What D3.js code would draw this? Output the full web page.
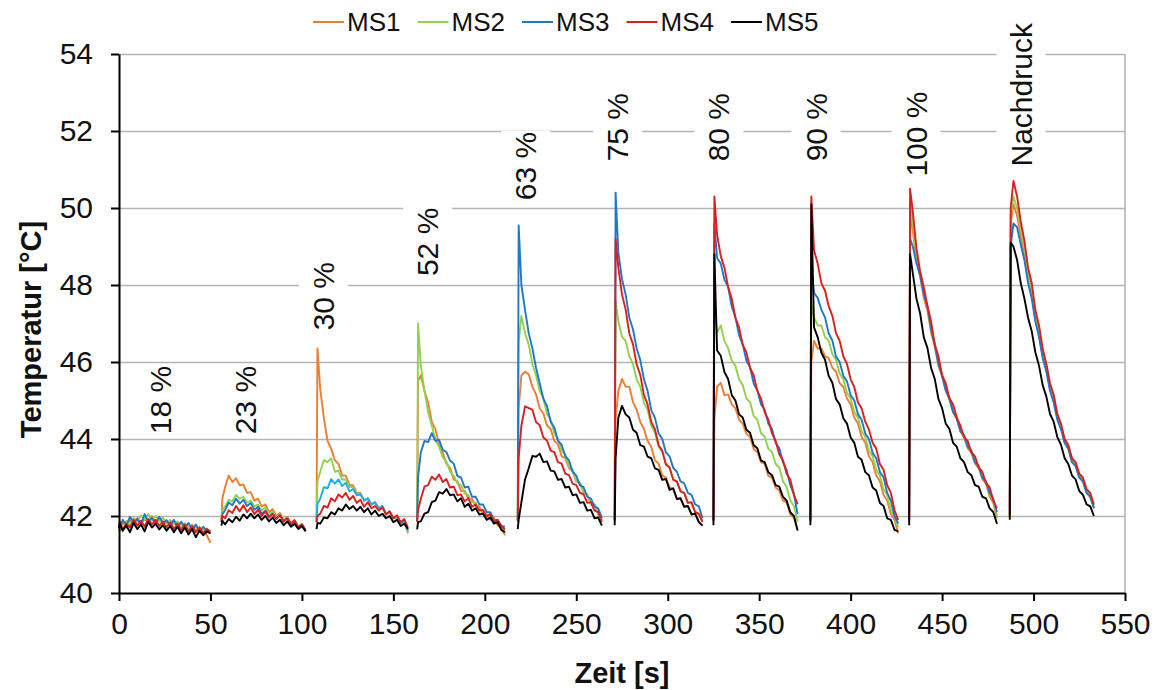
<!DOCTYPE html>
<html><head><meta charset="utf-8">
<script src="https://cdn.jsdelivr.net/npm/d3@7"></script>
<style>
html,body{margin:0;padding:0;background:#fff;}
svg{display:block;font-family:"Liberation Sans",Arial,sans-serif;}
</style></head>
<body><svg id="c" width="1156" height="690"></svg>
<script>
// ---- data ----
const seriesNames = ["MS1","MS2","MS3","MS4","MS5"];
const xTicks = [0,50,100,150,200,250,300,350,400,450,500,550];
const yTicks = [40,42,44,46,48,50,52,54];
// start time of each measurement segment; samples: start, start+0.5, then every 2 s
const segStart = [0,56,108,163,218,271,325,378,432,487];
const labelTexts = ["18 %","23 %","30 %","52 %","63 %","75 %","80 %","90 %","100 %","Nachdruck"];
const labelTime  = [22.4,69,111.6,168.6,222.2,272.5,327.8,380.9,435.6,493];
const labelTemp  = [45.01,45.01,47.71,49.12,51.09,52.1,52.1,52.1,51.92,52.94];

const ms1 = [
[41.75,41.62,41.85,41.7,41.9,41.78,41.95,41.8,41.92,41.86,42.0,41.82,41.95,41.8,41.9,41.76,41.88,41.7,41.84,41.68,41.8,41.62,41.75,41.6,41.7,41.5,41.3],
[41.85,42.45,42.75,43.05,42.88,42.98,42.8,42.82,42.6,42.62,42.4,42.45,42.25,42.3,42.1,42.18,42.0,42.08,41.9,41.98,41.82,41.9,41.72,41.78,41.62],
[41.85,46.35,45.3,44.55,43.95,43.75,43.45,43.35,43.05,43.05,42.8,42.8,42.6,42.6,42.4,42.45,42.3,42.35,42.2,42.25,42.05,42.1,41.95,41.95,41.8,41.85,41.55],
[41.85,45.5,45.65,45.25,44.95,44.45,44.25,43.85,43.65,43.35,43.25,42.95,42.9,42.65,42.65,42.45,42.45,42.25,42.25,42.05,42.05,41.9,41.95,41.75,41.72,41.5],
[41.88,44.8,45.65,45.75,45.68,45.36,45.16,44.8,44.66,44.35,44.26,43.95,43.86,43.55,43.5,43.25,43.16,42.9,42.86,42.6,42.56,42.3,42.3,42.05,41.9],
[41.86,44.5,45.25,45.56,45.36,45.36,44.96,44.76,44.44,44.26,43.95,43.8,43.45,43.36,43.05,43.0,42.75,42.7,42.45,42.46,42.25,42.26,42.05,42.06,41.85,41.75],
[41.86,44.5,45.36,45.46,45.14,45.16,44.9,44.8,44.5,44.4,44.14,44.06,43.74,43.66,43.4,43.36,43.04,43.0,42.74,42.66,42.4,42.36,42.04,41.96,41.65],
[41.86,46.0,46.55,46.35,46.35,46.15,46.1,45.85,45.75,45.45,45.35,45.05,44.9,44.55,44.4,44.05,43.9,43.55,43.4,43.05,42.9,42.55,42.4,42.05,41.9,41.55],
[41.86,49.8,49.4,48.66,48.24,47.66,47.34,46.76,46.4,45.9,45.64,45.26,45.04,44.7,44.54,44.2,44.04,43.76,43.64,43.36,43.24,42.96,42.84,42.5,42.34,41.95],
[42.0,49.6,50.1,49.8,49.25,48.75,48.15,47.75,47.1,46.7,46.15,45.8,45.3,45.0,44.55,44.3,43.9,43.75,43.4,43.3,43.0,42.9,42.6,42.5,42.2]
];
const ms2 = [
[41.7,41.82,41.6,41.88,41.75,41.95,41.85,42.02,41.9,42.05,41.88,42.0,41.85,41.96,41.8,41.9,41.78,41.86,41.72,41.82,41.68,41.78,41.62,41.72,41.58,41.68,41.55],
[41.92,42.15,42.25,42.42,42.38,42.55,42.45,42.5,42.35,42.4,42.25,42.3,42.15,42.22,42.05,42.12,41.95,42.05,41.9,41.96,41.8,41.88,41.72,41.8,41.6],
[41.88,42.9,43.15,43.45,43.4,43.5,43.15,43.18,42.95,42.95,42.75,42.76,42.55,42.56,42.4,42.46,42.3,42.36,42.2,42.26,42.05,42.1,41.94,41.96,41.8,41.84,41.58],
[41.9,47.0,45.9,45.25,44.7,44.35,43.98,43.8,43.52,43.42,43.15,43.05,42.85,42.8,42.58,42.55,42.36,42.35,42.16,42.15,42.0,42.0,41.86,41.85,41.68,41.55],
[41.9,46.5,47.2,46.75,46.45,45.95,45.65,45.25,45.05,44.65,44.5,44.15,44.0,43.7,43.6,43.3,43.2,42.9,42.85,42.6,42.55,42.3,42.3,42.05,41.9],
[41.9,47.6,47.05,46.66,46.55,46.15,45.95,45.55,45.36,44.94,44.76,44.34,44.16,43.8,43.66,43.35,43.26,42.95,42.9,42.65,42.6,42.35,42.34,42.1,42.04,41.85],
[41.9,47.5,46.75,46.95,46.55,46.36,46.04,45.9,45.55,45.4,45.05,44.96,44.6,44.5,44.15,44.06,43.75,43.66,43.35,43.26,42.9,42.76,42.4,42.26,41.85],
[41.9,47.5,47.15,46.95,46.95,46.65,46.55,46.2,46.05,45.7,45.55,45.2,45.05,44.7,44.55,44.2,44.05,43.7,43.55,43.2,43.05,42.7,42.55,42.15,42.0,41.7],
[41.9,50.2,49.6,48.76,48.34,47.76,47.44,46.86,46.5,46.0,45.7,45.3,45.1,44.76,44.6,44.26,44.1,43.8,43.7,43.4,43.3,43.0,42.9,42.56,42.4,42.0],
[42.0,49.8,50.3,50.0,49.45,48.95,48.3,47.9,47.25,46.85,46.25,45.9,45.4,45.1,44.6,44.35,43.95,43.8,43.45,43.35,43.05,42.95,42.65,42.55,42.25]
];
const ms3 = [
[41.8,41.7,41.9,41.76,41.98,41.82,41.92,41.78,42.05,41.85,41.95,41.8,41.98,41.82,41.88,41.75,41.9,41.72,41.85,41.7,41.82,41.65,41.78,41.6,41.72,41.62,41.6],
[41.88,42.05,42.15,42.35,42.28,42.45,42.32,42.42,42.26,42.34,42.16,42.24,42.06,42.14,41.98,42.06,41.92,42.02,41.86,41.94,41.8,41.88,41.7,41.78,41.62],
[41.86,42.3,42.45,42.75,42.72,42.96,42.84,42.95,42.78,42.86,42.64,42.7,42.54,42.56,42.4,42.46,42.3,42.36,42.2,42.26,42.06,42.12,41.94,42.0,41.8,41.88,41.62],
[41.88,43.0,43.65,43.95,43.92,44.15,43.95,43.98,43.72,43.66,43.44,43.36,43.04,43.0,42.74,42.76,42.5,42.5,42.3,42.3,42.1,42.1,41.9,41.9,41.74,41.72],
[41.9,49.55,48.0,47.35,46.75,46.35,45.85,45.45,45.05,44.85,44.45,44.3,43.95,43.85,43.55,43.45,43.15,43.05,42.8,42.75,42.5,42.45,42.25,42.2,41.95],
[41.9,50.4,48.85,48.15,47.75,47.15,46.85,46.35,46.05,45.55,45.25,44.75,44.55,44.15,44.0,43.65,43.55,43.25,43.15,42.9,42.85,42.6,42.55,42.3,42.25,41.95],
[41.88,49.6,48.7,48.56,48.14,47.96,47.44,47.16,46.7,46.46,46.04,45.86,45.44,45.26,44.9,44.76,44.4,44.26,43.9,43.76,43.4,43.2,42.8,42.56,42.05],
[41.88,48.5,47.8,47.66,47.36,47.16,46.74,46.56,46.14,46.0,45.64,45.5,45.14,45.0,44.64,44.5,44.14,44.0,43.64,43.5,43.14,43.0,42.6,42.4,42.0,41.8],
[41.88,49.2,49.0,48.56,48.24,47.76,47.44,46.86,46.44,45.96,45.64,45.26,45.04,44.7,44.54,44.2,44.1,43.8,43.7,43.4,43.3,43.0,42.9,42.6,42.44,42.1],
[42.2,49.0,49.6,49.5,49.05,48.65,48.05,47.65,47.05,46.65,46.1,45.75,45.25,44.95,44.5,44.25,43.9,43.75,43.4,43.3,43.0,42.9,42.6,42.5,42.2]
];
const ms4 = [
[41.72,41.85,41.65,41.8,41.7,41.9,41.75,41.88,41.72,41.92,41.78,41.9,41.74,41.86,41.7,41.84,41.66,41.8,41.64,41.78,41.6,41.74,41.58,41.7,41.55,41.66,41.6],
[41.85,42.0,41.94,42.15,42.08,42.26,42.12,42.28,42.1,42.22,42.05,42.16,42.0,42.12,41.96,42.06,41.92,42.02,41.86,41.94,41.78,41.88,41.7,41.78,41.64],
[41.84,42.0,42.06,42.26,42.22,42.46,42.38,42.56,42.48,42.6,42.42,42.52,42.34,42.42,42.24,42.36,42.2,42.26,42.14,42.22,42.04,42.12,41.94,42.02,41.84,41.92,41.7],
[41.85,42.15,42.45,42.76,42.8,43.02,42.94,43.08,42.88,42.96,42.74,42.76,42.54,42.56,42.38,42.46,42.24,42.3,42.14,42.16,41.98,42.06,41.84,41.9,41.74,41.65],
[41.86,43.5,44.35,44.85,44.8,44.76,44.44,44.36,44.04,43.96,43.7,43.66,43.4,43.36,43.1,43.06,42.84,42.8,42.6,42.56,42.34,42.36,42.14,42.1,41.85],
[41.88,49.2,48.45,47.75,47.36,46.74,46.46,45.94,45.66,45.14,44.9,44.44,44.26,43.84,43.7,43.34,43.26,42.94,42.9,42.64,42.6,42.34,42.36,42.1,42.06,41.85],
[41.9,50.3,49.3,48.75,48.45,47.95,47.65,47.15,46.9,46.45,46.25,45.85,45.65,45.25,45.05,44.7,44.5,44.15,43.95,43.6,43.45,43.1,42.95,42.55,42.3],
[41.9,50.3,48.9,48.55,48.05,47.85,47.45,47.2,46.75,46.55,46.15,45.95,45.55,45.35,44.95,44.8,44.45,44.25,43.9,43.75,43.35,43.2,42.8,42.6,42.15,41.9],
[41.9,50.5,49.9,48.95,48.35,47.95,47.45,47.05,46.45,46.15,45.65,45.45,45.05,44.9,44.55,44.35,44.05,43.95,43.65,43.55,43.25,43.15,42.85,42.75,42.4,42.2],
[42.0,50.0,50.7,50.3,49.65,49.15,48.45,48.05,47.35,46.95,46.35,45.95,45.45,45.15,44.65,44.4,44.0,43.85,43.5,43.4,43.1,43.0,42.7,42.6,42.3]
];
const ms5 = [
[41.68,41.8,41.62,41.75,41.58,41.82,41.66,41.78,41.6,41.85,41.7,41.8,41.65,41.76,41.62,41.74,41.58,41.72,41.55,41.7,41.52,41.66,41.45,41.62,41.5,41.6,41.55],
[41.75,41.88,41.78,41.92,41.84,41.98,41.88,42.04,41.94,42.06,41.94,42.04,41.9,42.0,41.86,41.96,41.82,41.9,41.76,41.86,41.72,41.8,41.66,41.74,41.6],
[41.66,41.82,41.8,41.96,41.94,42.1,42.04,42.2,42.14,42.3,42.18,42.26,42.14,42.24,42.1,42.2,42.04,42.14,42.0,42.06,41.94,42.0,41.84,41.9,41.74,41.8,41.66],
[41.65,41.84,41.86,42.06,42.1,42.36,42.4,42.62,42.58,42.7,42.54,42.56,42.38,42.46,42.24,42.32,42.14,42.2,42.04,42.06,41.9,41.96,41.8,41.84,41.64,41.58],
[41.66,41.9,42.36,42.95,43.24,43.56,43.54,43.62,43.4,43.42,43.18,43.16,42.94,42.96,42.74,42.76,42.54,42.56,42.34,42.36,42.14,42.16,41.94,41.96,41.75],
[41.76,43.5,44.55,44.86,44.64,44.56,44.24,44.16,43.84,43.8,43.54,43.5,43.24,43.2,42.94,42.96,42.68,42.72,42.44,42.46,42.24,42.26,42.04,42.06,41.84,41.75],
[41.76,48.8,46.3,46.16,45.74,45.56,45.14,45.0,44.64,44.56,44.24,44.16,43.84,43.76,43.44,43.4,43.14,43.06,42.8,42.76,42.5,42.4,42.1,42.0,41.62],
[41.76,50.1,46.9,46.64,46.24,46.06,45.64,45.46,45.04,44.9,44.54,44.4,44.04,43.9,43.54,43.46,43.14,43.06,42.74,42.66,42.34,42.26,41.94,41.9,41.64,41.6],
[41.76,48.8,48.3,47.64,47.26,46.64,46.36,45.84,45.56,45.04,44.8,44.4,44.26,43.9,43.8,43.5,43.4,43.14,43.06,42.8,42.76,42.5,42.46,42.2,42.1,41.8],
[41.9,49.1,49.0,48.65,48.05,47.65,47.15,46.8,46.25,45.9,45.4,45.1,44.65,44.45,44.05,43.85,43.5,43.35,43.05,42.95,42.65,42.55,42.3,42.25,42.0]
];
const seriesData = [ms1,ms2,ms3,ms4,ms5];

// ---- style ----
const colors = ["#ED7D31","#92D050","#1F78C8","#DD1E1E","#000000"];
const W = 1156, H = 690;
const M = {l:119, r:31, t:54, b:97};
const svg = d3.select("#c");
const x = d3.scaleLinear().domain([0,550]).range([M.l, W-M.r]);
const y = d3.scaleLinear().domain([40,54]).range([H-M.b, M.t]);
const tAt = (s,k) => k===0 ? s : (k===1 ? s+0.5 : s+2*(k-1));

// gridlines
svg.append("g").attr("transform",`translate(${M.l},0)`)
  .call(d3.axisLeft(y).tickValues(yTicks.filter(v=>v>40)).tickSize(-(W-M.l-M.r)).tickFormat(""))
  .call(g=>g.select(".domain").remove())
  .call(g=>g.selectAll("line").attr("stroke","#B4B4B4").attr("stroke-width",1.6));
// right border
svg.append("line").attr("x1",x(550)).attr("x2",x(550)).attr("y1",y(54)).attr("y2",y(40))
  .attr("stroke","#B4B4B4").attr("stroke-width",1.6);

// series
const line = d3.line().x(d=>x(d[0])).y(d=>y(d[1]));
seriesData.forEach((ser,si)=>{
  const g = svg.append("g");
  ser.forEach((vals,s)=>{
    const pts = vals.map((v,k)=>[tAt(segStart[s],k), v]);
    let c = colors[si];
    if (si===2 && s===2) c = "#19AEEA";
    g.append("path").attr("d",line(pts)).attr("fill","none")
      .attr("stroke",c).attr("stroke-width",1.9).attr("stroke-linejoin","round");
  });
});

// labels
labelTexts.forEach((t,i)=>{
  const g = svg.append("g").attr("transform",`translate(${x(labelTime[i])},${y(labelTemp[i])}) rotate(-90)`);
  const tx = g.append("text").text(t).attr("text-anchor","middle").attr("dy","0.36em")
    .attr("font-size",30).attr("fill","#111");
  const b = tx.node().getBBox();
  g.insert("rect","text").attr("x",b.x-1).attr("y",b.y-8).attr("width",b.width+2).attr("height",b.height+16).attr("fill","#fff");
});

// axes
const ax = svg.append("g").attr("transform",`translate(0,${y(40)})`)
  .call(d3.axisBottom(x).tickValues(xTicks).tickSize(8).tickPadding(12).tickSizeOuter(0));
ax.select(".domain").attr("stroke","#000").attr("stroke-width",2);
ax.selectAll(".tick line").attr("stroke","#000").attr("stroke-width",2);
ax.selectAll("text").attr("font-size",30).attr("fill","#111").attr("font-family","'Liberation Sans',Arial,sans-serif");

const ay = svg.append("g").attr("transform",`translate(${M.l},0)`)
  .call(d3.axisLeft(y).tickValues(yTicks).tickSize(8).tickPadding(18).tickSizeOuter(0));
ay.select(".domain").attr("stroke","#000").attr("stroke-width",2);
ay.selectAll(".tick line").attr("stroke","#000").attr("stroke-width",2);
ay.selectAll("text").attr("font-size",30).attr("fill","#111").attr("font-family","'Liberation Sans',Arial,sans-serif");

// axis titles
svg.append("text").attr("transform",`translate(31,${(y(40)+y(54))/2+6}) rotate(-90)`)
  .attr("text-anchor","middle").attr("dy","0.36em").attr("font-size",29).attr("font-weight","bold")
  .attr("fill","#111").text("Temperatur [°C]");
svg.append("text").attr("x",(x(0)+x(550))/2).attr("y",683)
  .attr("text-anchor","middle").attr("font-size",29).attr("font-weight","bold")
  .attr("fill","#111").text("Zeit [s]");

// legend
const lg = svg.append("g").attr("transform","translate(313,22)");
seriesNames.forEach((n,i)=>{
  const g = lg.append("g").attr("transform",`translate(${i*104.5},0)`);
  g.append("line").attr("x1",0).attr("x2",31).attr("y1",0).attr("y2",0)
    .attr("stroke",colors[i]).attr("stroke-width",2);
  g.append("text").attr("x",34).attr("dy","0.36em").attr("font-size",26).attr("fill","#111").text(n);
});
</script></body></html>
